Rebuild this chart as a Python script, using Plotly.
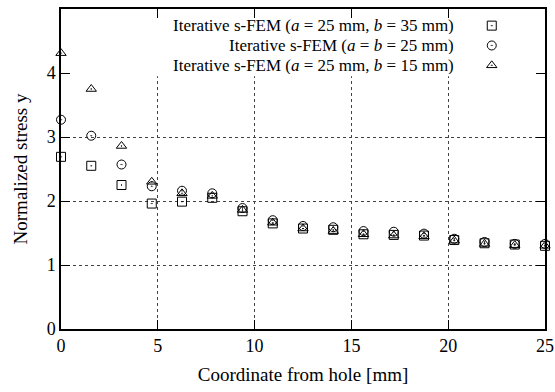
import plotly.graph_objects as go

# Sampling positions along the ligament from the hole edge [mm]
coord_mm = [0.0, 1.5625, 3.125, 4.6875, 6.25, 7.8125, 9.375, 10.9375, 12.5,
            14.0625, 15.625, 17.1875, 18.75, 20.3125, 21.875, 23.4375, 25.0]

# Normalized stress for each plate geometry
stress_b35 = [2.69, 2.55, 2.25, 1.96, 1.99, 2.05, 1.84, 1.65, 1.57,
              1.55, 1.48, 1.47, 1.46, 1.39, 1.34, 1.32, 1.30]
stress_b25 = [3.27, 3.02, 2.57, 2.23, 2.16, 2.12, 1.89, 1.70, 1.61,
              1.59, 1.53, 1.52, 1.49, 1.41, 1.36, 1.33, 1.33]
stress_b15 = [4.31, 3.75, 2.86, 2.30, 2.12, 2.08, 1.86, 1.66, 1.57,
              1.53, 1.48, 1.46, 1.45, 1.38, 1.33, 1.31, 1.30]

series_labels = [
    "Iterative s-FEM (<i>a</i> = 25 mm, <i>b</i> = 35 mm)",
    "Iterative s-FEM (<i>a</i> = <i>b</i> = 25 mm)",
    "Iterative s-FEM (<i>a</i> = 25 mm, <i>b</i> = 15 mm)",
]
series_values = [stress_b35, stress_b25, stress_b15]
series_symbols = ["square-open-dot", "circle-open-dot", "triangle-up-open-dot"]

x_ticks = [0, 5, 10, 15, 20, 25]
y_ticks = [0, 1, 2, 3, 4, 5]

FONT = "Liberation Serif, Times New Roman, serif"

fig = go.Figure()

for label, vals, sym in zip(series_labels, series_values, series_symbols):
    fig.add_trace(go.Scatter(
        x=coord_mm, y=vals, mode="markers", name=label, showlegend=False,
        marker=dict(symbol=sym, size=9, color="black",
                    line=dict(color="black", width=1)),
        cliponaxis=False,
    ))

# Key: right-aligned text with the sample symbol to its right
key_rows_y = [0.948, 0.886, 0.824]
for label, sym, ky in zip(series_labels, series_symbols, key_rows_y):
    fig.add_annotation(x=0.814, y=ky, xref="paper", yref="paper",
                       text=label, showarrow=False, xanchor="right",
                       yanchor="middle", height=17, borderpad=0,
                       font=dict(family=FONT, size=17, color="black"))
    fig.add_trace(go.Scatter(
        x=[0.89], y=[ky], xaxis="x2", yaxis="y2", mode="markers",
        showlegend=False, hoverinfo="skip",
        marker=dict(symbol=sym, size=9, color="black",
                    line=dict(color="black", width=1)),
    ))

# Opaque key area hides the grid behind it
fig.add_shape(type="rect", xref="x", yref="y", x0=0, x1=25, y0=3.95, y1=5,
              fillcolor="white", line=dict(width=0), layer="between")

axis_common = dict(
    showline=True, linecolor="black", linewidth=1.5, mirror="ticks",
    ticks="inside", ticklen=9, tickwidth=1, tickcolor="black",
    showgrid=True, gridcolor="#444444", gridwidth=1, griddash="dot",
    zeroline=False, automargin=False,
    tickfont=dict(family=FONT, size=18, color="black"),
)

fig.update_layout(
    width=555, height=392,
    margin=dict(l=61, r=10, t=9, b=63),
    paper_bgcolor="white", plot_bgcolor="white",
    showlegend=False,
    xaxis=dict(range=[0, 25], tickvals=x_ticks,
               title=dict(text="Coordinate from hole [mm]", standoff=12,
                          font=dict(family=FONT, size=19, color="black")),
               **axis_common),
    yaxis=dict(range=[0, 5], tickvals=y_ticks,
               title=dict(text="Normalized stress y", standoff=14,
                          font=dict(family=FONT, size=19, color="black")),
               **axis_common),
    xaxis2=dict(range=[0, 1], overlaying="x", visible=False),
    yaxis2=dict(range=[0, 1], overlaying="y", visible=False),
)

fig.write_html("out.html")
